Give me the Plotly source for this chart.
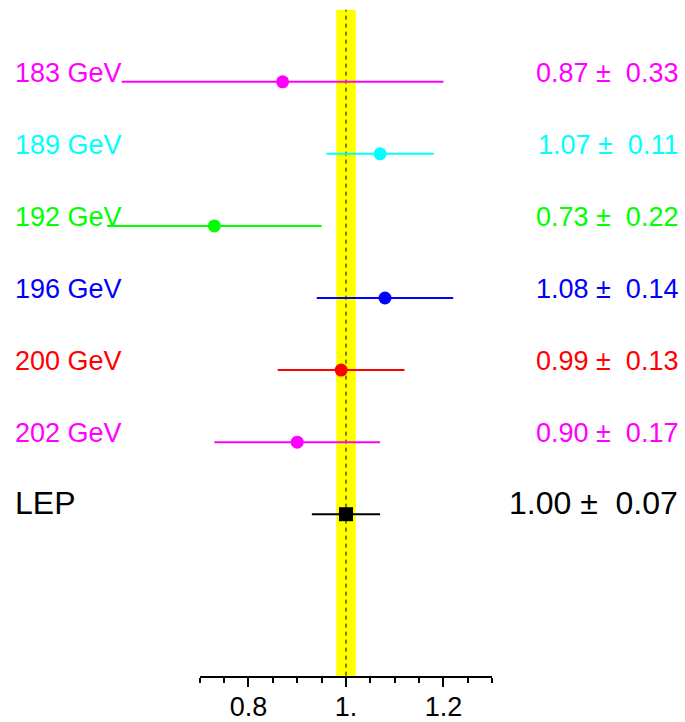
import plotly.graph_objects as go

labels = ["183 GeV", "189 GeV", "192 GeV", "196 GeV", "200 GeV", "202 GeV", "LEP"]
values = [0.87, 1.07, 0.73, 1.08, 0.99, 0.90, 1.00]
errors = [0.33, 0.11, 0.22, 0.14, 0.13, 0.17, 0.07]
colors = ["#ff00ff", "#00ffff", "#00ff00", "#0000ff", "#ff0000", "#ff00ff", "#000000"]
rows = [0, -1, -2, -3, -4, -5, -6]
tick_vals = [0.8, 1.0, 1.2]
tick_text = ["0.8", "1.", "1.2"]
band = [0.98, 1.02]

W, H = 685, 722
XR = [0.2903, 1.6954]
YR = [-8.80, 1.135]
AXIS_Y = -8.24
FONT = "Liberation Sans, Arial, sans-serif"

fig = go.Figure()

for i, (lab, v, e, c, r) in enumerate(zip(labels, values, errors, colors, rows)):
    is_lep = lab == "LEP"
    fig.add_trace(go.Scatter(
        x=[v], y=[r], mode="markers",
        marker=dict(color=c, size=14 if is_lep else 13,
                    symbol="square" if is_lep else "circle", line=dict(width=0)),
        error_x=dict(type="data", array=[e], color=c, thickness=2, width=0),
        showlegend=False, hoverinfo="skip",
    ))
    fs = 32 if is_lep else 27
    fig.add_annotation(x=13 / W, xref="paper", y=r, yref="y", text=lab,
                       xanchor="left", yanchor="middle", yshift=9 if not is_lep else 11,
                       showarrow=False, font=dict(family=FONT, size=fs, color=c))
    fig.add_annotation(x=680 / W, xref="paper", y=r, yref="y",
                       text=f"{v:.2f} \u00b1  {e:.2f}".replace(" ", "&nbsp;"),
                       xanchor="right", yanchor="middle", yshift=9 if not is_lep else 11,
                       showarrow=False, font=dict(family=FONT, size=fs, color=c))

# yellow band and dashed reference line
fig.add_shape(type="rect", xref="x", yref="y", x0=band[0], x1=band[1], y0=AXIS_Y, y1=1.0,
              fillcolor="#ffff00", line=dict(width=0), layer="below")
fig.add_shape(type="line", xref="x", yref="y", x0=1.0, x1=1.0, y0=AXIS_Y, y1=1.0,
              line=dict(color="black", width=1, dash="4px,4px"), layer="below")

# secondary axis carrying the visible ticks
d0 = (0.7 - XR[0]) / (XR[1] - XR[0])
d1 = (1.3 - XR[0]) / (XR[1] - XR[0])
ydom0 = (AXIS_Y - YR[0]) / (YR[1] - YR[0])
fig.add_trace(go.Scatter(x=[], y=[], xaxis="x2", yaxis="y2", showlegend=False))

fig.update_layout(
    width=W, height=H, margin=dict(l=0, r=0, t=0, b=0),
    paper_bgcolor="white", plot_bgcolor="rgba(0,0,0,0)",
    xaxis=dict(range=XR, visible=False, domain=[0, 1]),
    yaxis=dict(range=YR, visible=False, domain=[0, 1]),
    xaxis2=dict(range=[0.7, 1.3], domain=[d0, d1], anchor="y2",
                showline=True, linecolor="black", linewidth=2,
                ticks="outside", tickvals=tick_vals, ticktext=tick_text,
                ticklen=9, tickwidth=2, tickcolor="black",
                ticklabelstandoff=-3,
                minor=dict(dtick=0.05, tick0=0.7, ticks="outside", ticklen=5,
                           tickwidth=2, tickcolor="black", showgrid=False),
                showgrid=False, zeroline=False,
                tickfont=dict(family=FONT, size=27, color="black")),
    yaxis2=dict(range=[0, 1], domain=[ydom0, 1], anchor="x2", visible=False),
)

fig.write_html("out.html", config={"displayModeBar": False},
               post_script="document.body.style.margin='0';document.body.style.overflow='hidden';")
